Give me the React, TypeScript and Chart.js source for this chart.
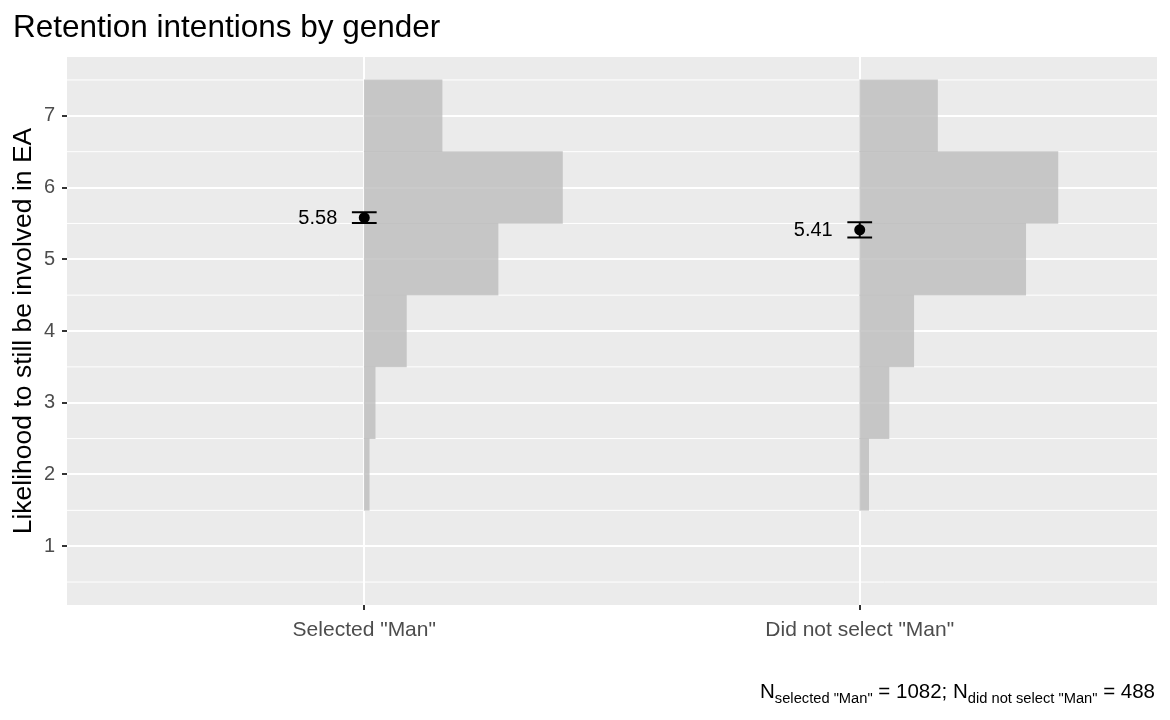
import React, { useEffect, useRef } from "react";
import { Chart, registerables } from "chart.js";

Chart.register(...registerables);

const categories = ['Selected "Man"', 'Did not select "Man"'];
const bins = [2, 3, 4, 5, 6, 7];
const selectedWidths = [0.010, 0.022, 0.085, 0.270, 0.400, 0.157];
const notSelectedWidths = [0.018, 0.059, 0.109, 0.335, 0.400, 0.157];
const means = [5.58, 5.41];
const errors = [0.074, 0.105];
const meanLabels = ["5.58", "5.41"];
const yTicks = [1, 2, 3, 4, 5, 6, 7];
const yMinor = [0.5, 1.5, 2.5, 3.5, 4.5, 5.5, 6.5, 7.5];
const titleText = "Retention intentions by gender";
const yTitleText = "Likelihood to still be involved in EA";
const captionParts: [string, boolean][] = [
  ["N", false],
  ['selected "Man"', true],
  [" = 1082; N", false],
  ['did not select "Man"', true],
  [" = 488", false],
];

const FONT = "'Liberation Sans', Arial, Helvetica, sans-serif";

export default function App() {
  const ref = useRef<HTMLCanvasElement | null>(null);
  useEffect(() => {
    document.body.style.margin = "0";
    const canvas = ref.current;
    if (!canvas) return;

    const decor = {
      id: "decor",
      beforeDraw(chart: any) {
        const { ctx, chartArea: a } = chart;
        ctx.save();
        ctx.fillStyle = "#ffffff";
        ctx.fillRect(0, 0, chart.width, chart.height);
        ctx.fillStyle = "#EBEBEB";
        ctx.fillRect(a.left, a.top, a.right - a.left, a.bottom - a.top);
        ctx.restore();
      },
      beforeDatasetsDraw(chart: any) {
        const { ctx, chartArea: a, scales } = chart;
        ctx.save();
        ctx.strokeStyle = "#ffffff";
        ctx.lineWidth = 1;
        for (const v of yMinor) {
          const y = scales.y.getPixelForValue(v);
          ctx.beginPath();
          ctx.moveTo(a.left, y);
          ctx.lineTo(a.right, y);
          ctx.stroke();
        }
        ctx.restore();
      },
      afterDatasetsDraw(chart: any) {
        const { ctx, scales } = chart;
        ctx.save();
        ctx.strokeStyle = "#000000";
        ctx.lineWidth = 2;
        means.forEach((m, i) => {
          const xc = i + 1;
          const xl = scales.x.getPixelForValue(xc - 0.025);
          const xr = scales.x.getPixelForValue(xc + 0.025);
          const xm = scales.x.getPixelForValue(xc);
          const yt = scales.y.getPixelForValue(m + errors[i]);
          const yb = scales.y.getPixelForValue(m - errors[i]);
          ctx.beginPath();
          ctx.moveTo(xl, yt); ctx.lineTo(xr, yt);
          ctx.moveTo(xl, yb); ctx.lineTo(xr, yb);
          ctx.moveTo(xm, yt); ctx.lineTo(xm, yb);
          ctx.stroke();
          ctx.fillStyle = "#000000";
          ctx.font = `20px ${FONT}`;
          ctx.textAlign = "right";
          ctx.textBaseline = "middle";
          ctx.fillText(meanLabels[i], xm - 27, scales.y.getPixelForValue(m) + 1);
        });
        ctx.restore();
      },
      afterDraw(chart: any) {
        const { ctx, chartArea: a } = chart;
        ctx.save();
        ctx.fillStyle = "#000000";
        ctx.font = `31.5px ${FONT}`;
        ctx.textAlign = "left";
        ctx.textBaseline = "alphabetic";
        ctx.fillText(titleText, 13, 37);

        ctx.save();
        ctx.translate(24, (a.top + a.bottom) / 2);
        ctx.rotate(-Math.PI / 2);
        ctx.font = `26.5px ${FONT}`;
        ctx.textAlign = "center";
        ctx.textBaseline = "middle";
        ctx.fillText(yTitleText, 0, 0);
        ctx.restore();

        const big = `20.5px ${FONT}`;
        const small = `14.7px ${FONT}`;
        let total = 0;
        for (const [t, sub] of captionParts) {
          ctx.font = sub ? small : big;
          total += ctx.measureText(t).width;
        }
        let x = a.right - 2 - total;
        ctx.textAlign = "left";
        for (const [t, sub] of captionParts) {
          ctx.font = sub ? small : big;
          ctx.fillText(t, x, sub ? 703 : 698);
          x += ctx.measureText(t).width;
        }
        ctx.restore();
      },
    };

    const barColor = "rgba(189,189,189,0.8)";
    const chart = new Chart(canvas, {
      type: "bar",
      data: {
        datasets: [
          {
            type: "line",
            data: means.map((m, i) => ({ x: i + 1, y: m })),
            showLine: false,
            pointRadius: 5.5,
            pointBackgroundColor: "#000",
            pointBorderColor: "#000",
            pointBorderWidth: 0,
          } as any,
          {
            data: bins.map((b, i) => ({ y: b, x: [1, 1 + selectedWidths[i]] })),
            backgroundColor: barColor,
            borderWidth: 0,
            grouped: false,
            barPercentage: 1,
            categoryPercentage: 1,
          } as any,
          {
            data: bins.map((b, i) => ({ y: b, x: [2, 2 + notSelectedWidths[i]] })),
            backgroundColor: barColor,
            borderWidth: 0,
            grouped: false,
            barPercentage: 1,
            categoryPercentage: 1,
          } as any,
        ],
      },
      options: {
        indexAxis: "y",
        animation: false,
        responsive: false,
        maintainAspectRatio: false,
        devicePixelRatio: 1,
        layout: { padding: { top: 57, right: 13, left: 0, bottom: 0 } },
        plugins: { legend: { display: false }, tooltip: { enabled: false }, title: { display: false } },
        scales: {
          x: {
            type: "linear",
            min: 0.4,
            max: 2.6,
            offset: false,
            afterBuildTicks: (s: any) => { s.ticks = categories.map((_, i) => ({ value: i + 1 })); },
            afterFit: (s: any) => { s.height = 115; },
            ticks: {
              callback: (v: any) => categories[Math.round(Number(v)) - 1],
              color: "#4D4D4D",
              font: { family: FONT, size: 21 },
              padding: 8,
              maxRotation: 0,
              autoSkip: false,
            },
            grid: { offset: false, color: "#ffffff", lineWidth: 2, tickColor: "#333333", tickLength: 5, tickWidth: 2 },
            border: { display: false },
          },
          y: {
            type: "linear",
            min: 0.18,
            max: 7.82,
            offset: false,
            afterBuildTicks: (s: any) => { s.ticks = yTicks.map((v) => ({ value: v })); },
            afterFit: (s: any) => { s.width = 67; },
            ticks: {
              callback: (v: any) => String(v),
              color: "#4D4D4D",
              font: { family: FONT, size: 20 },
              padding: 7,
              autoSkip: false,
            },
            grid: { offset: false, color: "#ffffff", lineWidth: 2, tickColor: "#333333", tickLength: 5, tickWidth: 2 },
            border: { display: false },
          },
        },
      },
      plugins: [decor],
    } as any);
    return () => chart.destroy();
  }, []);
  return (
    <div style={{ width: 1170, height: 720 }}>
      <canvas ref={ref} width={1170} height={720} style={{ display: "block", width: 1170, height: 720 }} />
    </div>
  );
}
